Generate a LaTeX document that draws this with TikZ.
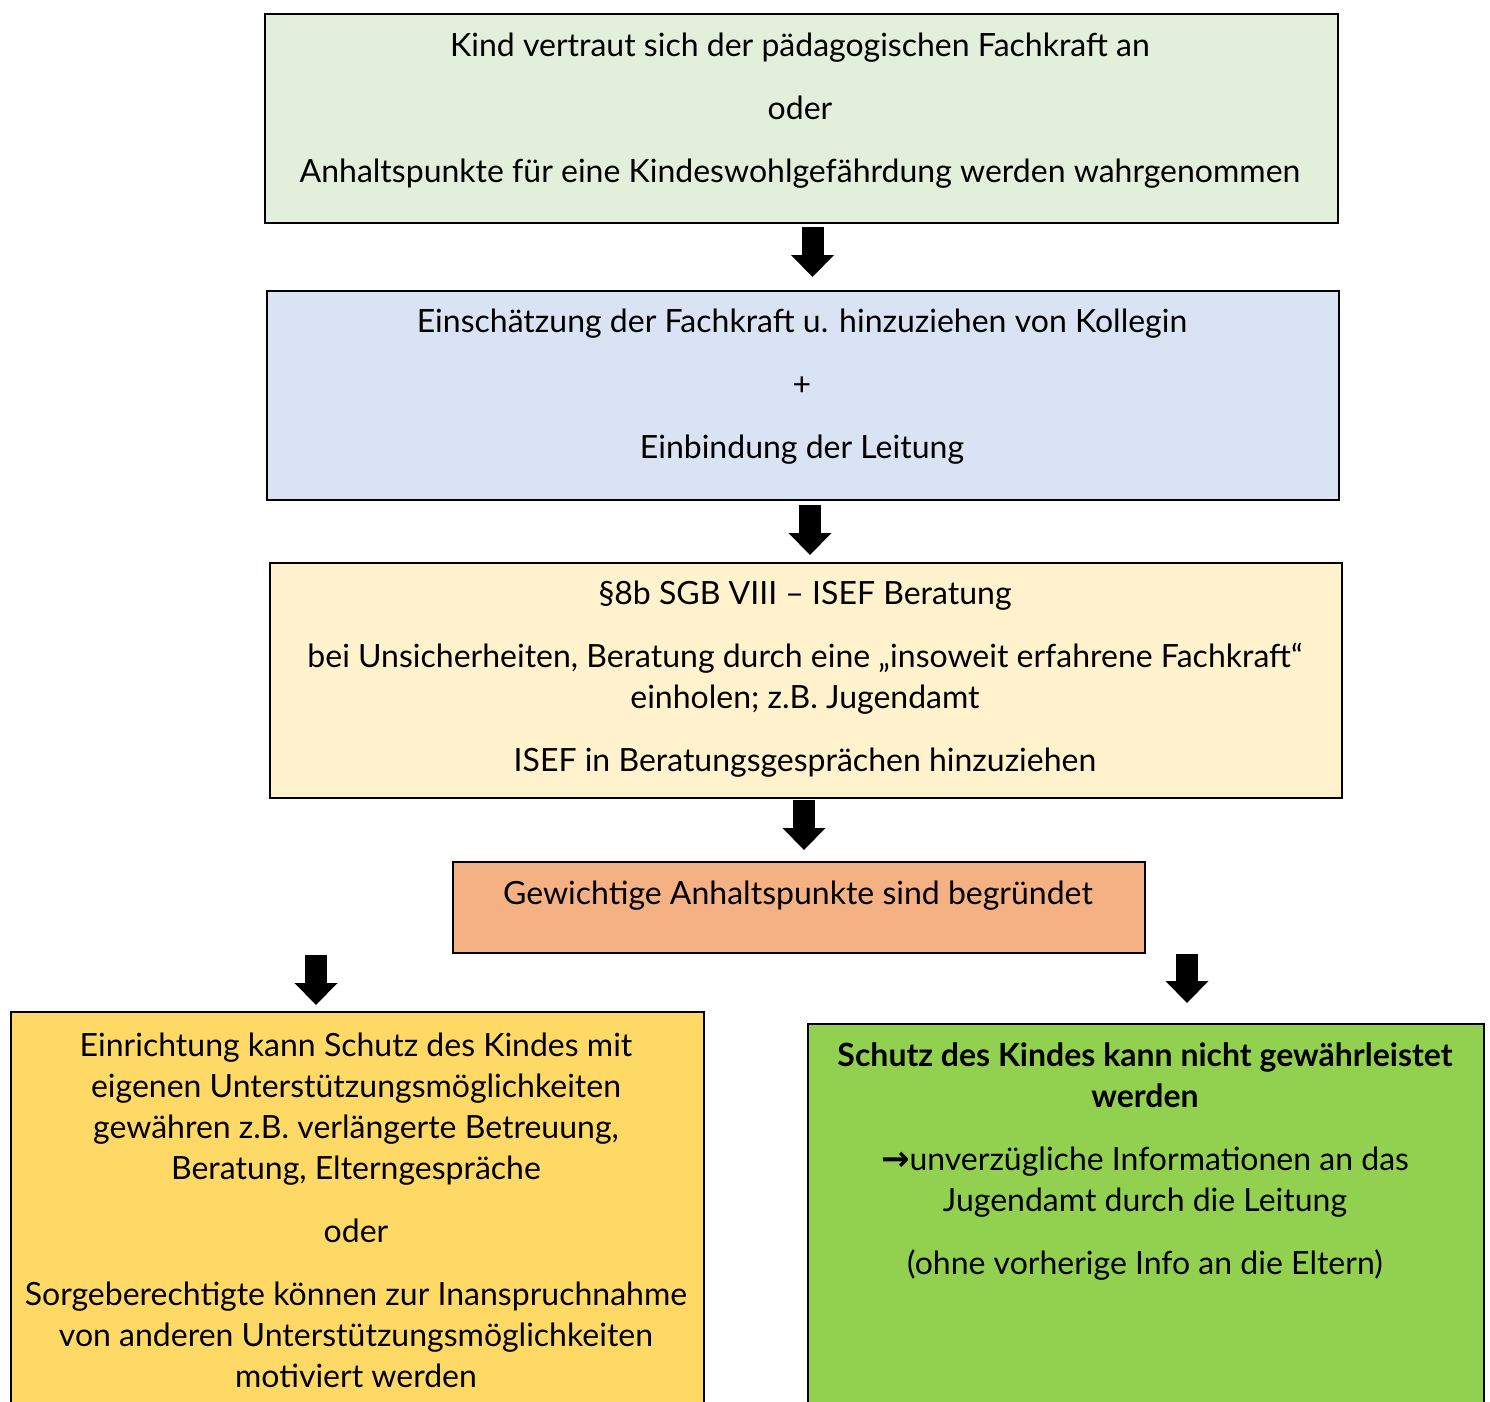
\documentclass[tikz,border=0pt]{standalone}
\usepackage{fontspec}
\setmainfont{Lato}
\newfontfamily\symbfont{DejaVu Sans}
\usetikzlibrary{arrows.meta,positioning,calc}

\definecolor{greenlight}{HTML}{E2EFDA}
\definecolor{bluelight}{HTML}{DAE3F3}
\definecolor{creamlight}{HTML}{FFF2CC}
\definecolor{orangelight}{HTML}{F4B183}
\definecolor{yellowbox}{HTML}{FFD966}
\definecolor{greenbox}{HTML}{92D050}

\tikzset{
    block/.style={
        draw,
        line width=1pt,
        rectangle,
        anchor=north west,
        inner sep=0pt
    },
    label_text/.style={
        align=center,
        inner sep=0pt,
        font=\fontsize{16}{20.5}\selectfont
    },
    bigarrow/.style={
        draw,
        line width=11pt,
        -{Triangle[length=11pt,width=21.5pt,line width=0pt]}
    },
}

\begin{document}
\begin{tikzpicture}[x=0.5pt, y=-0.5pt]
        \useasboundingbox (0,0) rectangle (1490,1402);
        \clip (0,0) rectangle (1490,1402);

        % blocks
        \node[block, fill=greenlight, minimum width=536.5pt, minimum height=104.5pt] (start) at (264,13) {};
        \node[block, fill=bluelight, minimum width=536pt, minimum height=104.5pt] (assess) at (266,290) {};
        \node[block, fill=creamlight, minimum width=536pt, minimum height=117.5pt] (isef) at (269,562) {};
        \node[block, fill=orangelight, minimum width=346pt, minimum height=45.5pt] (reason) at (452,861) {};
        \node[block, fill=yellowbox, minimum width=346.5pt, minimum height=209.5pt] (ownhelp) at (10,1011) {};
        \node[block, fill=greenbox, minimum width=338pt, minimum height=203.5pt] (noprotect) at (807,1023) {};

        % texts
        \node[label_text] (startText) at (800,111) {Kind vertraut sich der pädagogischen Fachkraft an\\[11pt]
            oder\\[11pt]
            Anhaltspunkte für eine Kindeswohlgefährdung werden wahrgenommen};
        \node[label_text] (assessText) at (802,387) {Einschätzung der Fachkraft u. hinzuziehen von Kollegin\\[11pt]
            +\\[11pt]
            Einbindung der Leitung};
        \node[label_text] (isefText) at (805,679) {§8b SGB VIII – ISEF Beratung\\[11pt]
            bei Unsicherheiten, Beratung durch eine „insoweit erfahrene Fachkraft“\\
            einholen; z.B. Jugendamt\\[11pt]
            ISEF in Beratungsgesprächen hinzuziehen};
        \node[label_text] (reasonText) at (798,896) {Gewichtige Anhaltspunkte sind begründet};
        \node[label_text] (ownhelpText) at (356,1210) {Einrichtung kann Schutz des Kindes mit\\
            eigenen Unterstützungsmöglichkeiten\\
            gewähren z.B. verlängerte Betreuung,\\
            Beratung, Elterngespräche\\[11pt]
            oder\\[11pt]
            Sorgeberechtigte können zur Inanspruchnahme\\
            von anderen Unterstützungsmöglichkeiten\\
            motiviert werden};
        \node[label_text] (noprotectText) at (1145,1162) {\textbf{Schutz des Kindes kann nicht gewährleistet}\\
            \textbf{werden}\\[11pt]
            {\symbfont\bfseries\fontsize{17}{20.5}\selectfont →}unverzügliche Informationen an das\\
            Jugendamt durch die Leitung\\[11pt]
            (ohne vorherige Info an die Eltern)};

        % arrows
        \draw[bigarrow, shorten <=1.5pt, shorten >=6.5pt] ([xshift=5.5pt]start.south) -- ([xshift=5.5pt]start.south |- assess.north);
        \draw[bigarrow, shorten <=2pt, shorten >=3.5pt] ([xshift=3.5pt]assess.south) -- ([xshift=3.5pt]assess.south |- isef.north);
        \draw[bigarrow, shorten <=0.5pt, shorten >=5.5pt] ([xshift=-1pt]isef.south) -- ([xshift=-1pt]isef.south |- reason.north);
        \draw[bigarrow, shorten <=0.5pt, shorten >=3pt] ([xshift=-20.75pt]ownhelp.north |- reason.south) -- ([xshift=-20.75pt]ownhelp.north);
        \draw[bigarrow, shorten <=0pt, shorten >=10pt] ([xshift=20.5pt]noprotect.north |- reason.south) -- ([xshift=20.5pt]noprotect.north);
    \end{tikzpicture}
\end{document}
